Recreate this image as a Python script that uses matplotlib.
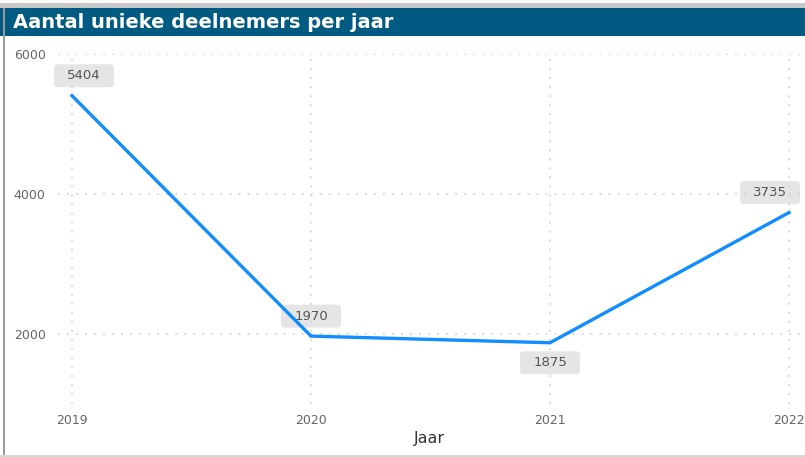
import matplotlib
matplotlib.use("Agg")
import matplotlib.pyplot as plt
from matplotlib.patches import Rectangle, FancyBboxPatch
from matplotlib.transforms import Affine2D, IdentityTransform

years = [2019, 2020, 2021, 2022]
participants = [5404, 1970, 1875, 3735]
label_pos = ["above", "above", "below", "above"]
y_ticks = [2000, 4000, 6000]
title = "Aantal unieke deelnemers per jaar"
x_label = "Jaar"

W, H = 805, 457
fig = plt.figure(figsize=(W / 100, H / 100), dpi=100)
fig.patch.set_facecolor("white")

# frame / title bar
fig.patches.append(Rectangle((0, 1 - 8 / H), 1, 5 / H, transform=fig.transFigure,
                             facecolor="#c8c8c8", edgecolor="none"))
fig.patches.append(Rectangle((0, 1 - 36 / H), 1, 28 / H, transform=fig.transFigure,
                             facecolor="#005a82", edgecolor="none"))
fig.patches.append(Rectangle((3 / W, 0), 2 / W, 1 - 8 / H, transform=fig.transFigure,
                             facecolor="#9a9a9a", edgecolor="none"))
fig.patches.append(Rectangle((0, 0), 1, 2 / H, transform=fig.transFigure,
                             facecolor="#d8d8d8", edgecolor="none"))
fig.text(13 / W, 1 - 22 / H, title, color="white", fontsize=14, fontweight="bold",
         family="DejaVu Sans", va="center", ha="left")

left_px, right_px = 58, 800
top_px, bot_px = 54, 404
ax = fig.add_axes([left_px / W, 1 - bot_px / H, (right_px - left_px) / W, (bot_px - top_px) / H])
ax.set_facecolor("none")

px_per_year = 239
ax.set_xlim(2019 - (72 - left_px) / px_per_year, 2022 + (right_px - 789) / px_per_year)
ax.set_ylim(1000, 6000)

for s in ax.spines.values():
    s.set_visible(False)

ax.set_xticks(years)
ax.set_xticklabels([str(y) for y in years])
ax.set_yticks(y_ticks)
ax.tick_params(axis="both", length=0, colors="#666666", labelsize=9)
ax.tick_params(axis="x", pad=7)
ax.tick_params(axis="y", pad=9)
ax.grid(True, color="#d6d6d6", linestyle=(0, (1, 4)), linewidth=1.3)
ax.set_axisbelow(True)

ax.plot(years, participants, color="#118dff", linewidth=2.4, solid_joinstyle="miter", zorder=3)

box_w, box_h = 60, 23
for i, (x, y, pos) in enumerate(zip(years, participants, label_pos)):
    dy = 20 if pos == "above" else -20
    dx = 0
    if i == 0:
        dx = 12
    elif i == len(years) - 1:
        dx = -19
    px, py = ax.transData.transform((x, y))
    cx, cy = px + dx, py + dy
    patch = FancyBboxPatch((-box_w / 2 + 4, -box_h / 2 + 4), box_w - 8, box_h - 8,
                           boxstyle="round,pad=4,rounding_size=4",
                           transform=Affine2D().translate(cx, cy),
                           facecolor=(0.82, 0.82, 0.82, 0.55), edgecolor="none",
                           zorder=2.5, clip_on=False)
    ax.add_artist(patch)
    ax.text(cx, cy, str(y), transform=IdentityTransform(), ha="center", va="center",
            fontsize=9.5, color="#555555", zorder=4, clip_on=False)

ax.set_xlabel(x_label, fontsize=11.5, color="#333333", labelpad=3)

fig.savefig("out.png", dpi=100, facecolor="white")
